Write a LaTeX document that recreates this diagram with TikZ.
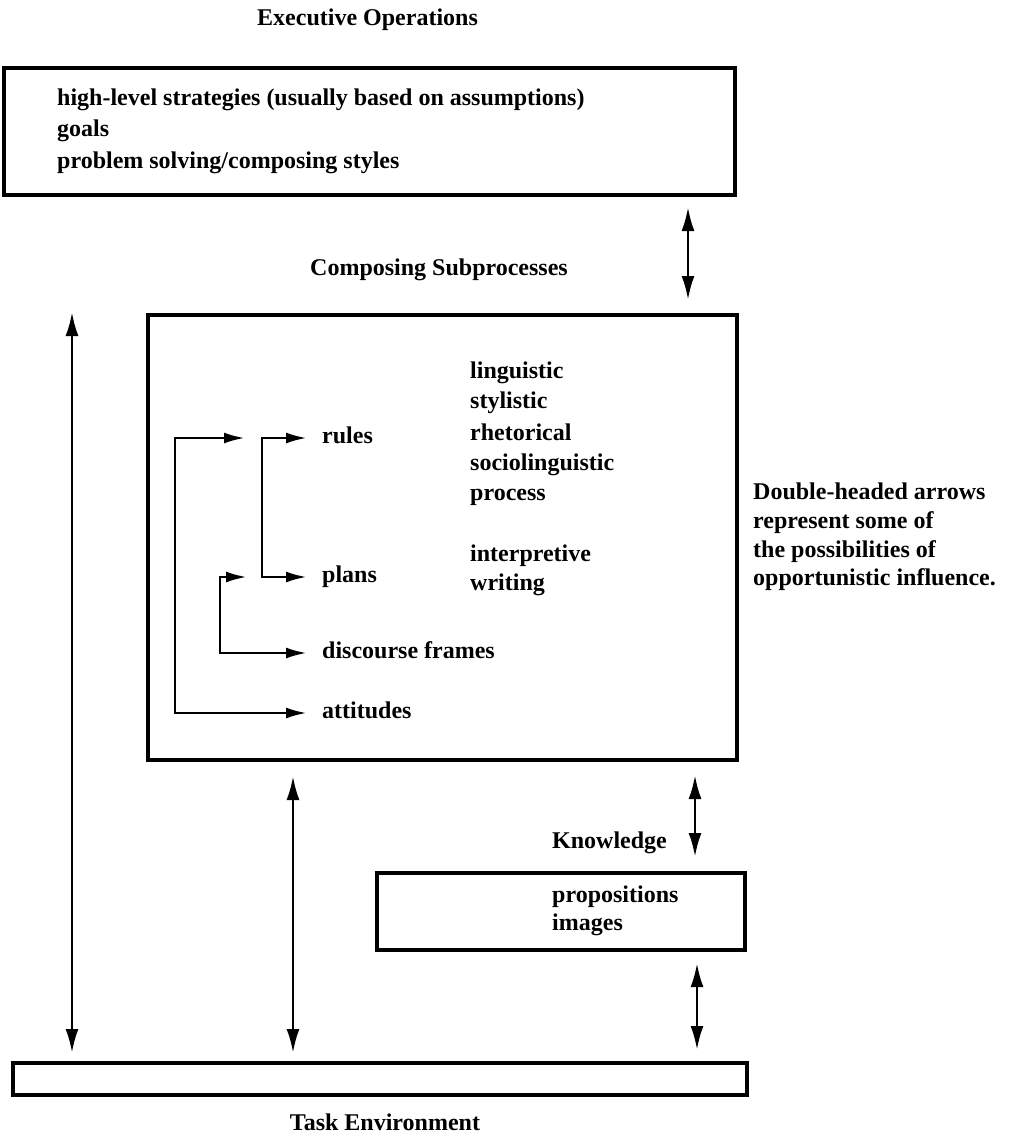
\documentclass[tikz,border=0pt]{standalone}
\usepackage{fontspec}
\setmainfont{Liberation Serif}
\usetikzlibrary{arrows.meta}
\begin{document}
\begin{tikzpicture}[x=1pt,y=-1pt,
  box/.style={draw, line width=3.2pt, inner sep=0pt, outer sep=0pt, anchor=north west},
  txt/.style={font=\fontsize{24}{30}\selectfont\bfseries, inner sep=0pt, anchor=west, text height=16pt, text depth=5pt},
  dbl/.style={line width=2.8pt, {Latex[length=24pt,width=13pt]}-{Latex[length=24pt,width=13pt]}},
  brk/.style={line width=2.8pt, {Latex[length=21pt,width=11pt]}-{Latex[length=21pt,width=11pt]}},
]
\useasboundingbox (0,0) rectangle (1009,1141);

% boxes
\node[box, minimum width=731pt, minimum height=127pt] (exec) at (4,68) {};
\node[box, minimum width=589pt, minimum height=445pt] (comp) at (148,315) {};
\node[box, minimum width=368pt, minimum height=77pt] (know) at (377,873) {};
\node[box, minimum width=734pt, minimum height=32pt] (task) at (13,1063) {};

% titles
\node[txt] (tExec) at (257,20) {Executive Operations};
\node[txt] (tComp) at (310,270) {Composing Subprocesses};
\node[txt] (tKnow) at (552,843) {Knowledge};
\node[txt, anchor=center] (tTask) at (385,1125) {Task Environment};

% executive box text
\node[txt] (e1) at (57,100) {high-level strategies (usually based on assumptions)};
\node[txt] (e2) at (57,131) {goals};
\node[txt] (e3) at (57,163) {problem solving/composing styles};

% composing box text
\node[txt] (c1) at (470,373) {linguistic};
\node[txt] (c2) at (470,403) {stylistic};
\node[txt] (c3) at (470,435) {rhetorical};
\node[txt] (c4) at (470,465) {sociolinguistic};
\node[txt] (c5) at (470,495) {process};
\node[txt] (c6) at (470,556) {interpretive};
\node[txt] (c7) at (470,585) {writing};

\node[txt] (rules) at (322,438) {rules};
\node[txt] (plans) at (322,577) {plans};
\node[txt] (disc) at (322,653) {discourse frames};
\node[txt] (att) at (322,713) {attitudes};

% knowledge box text
\node[txt] (k1) at (552,897) {propositions};
\node[txt] (k2) at (552,925) {images};

% side note
\node[txt] (n1) at (753,494) {Double-headed arrows};
\node[txt] (n2) at (753,523) {represent some of};
\node[txt] (n3) at (753,552) {the possibilities of};
\node[txt] (n4) at (753,580) {opportunistic influence.};

% bracket arrows
\coordinate (t1) at (245,438);
\coordinate (b1) at (175,438);
\coordinate (t3) at (247,577);
\coordinate (b3) at (220,577);
\coordinate (b2) at (262,577);
\draw[brk] (t1) -- (b1) |- ([xshift=-15pt]att.west);
\draw[brk] ([xshift=-15pt]rules.west) -| (b2) -- ([xshift=-15pt]plans.west);
\draw[brk] (t3) -- (b3) |- ([xshift=-15pt]disc.west);

% double-headed arrows
\coordinate (ax) at (688,0);
\coordinate (lx) at (72,0);
\coordinate (mx) at (293,0);
\coordinate (rx) at (695,0);
\coordinate (kx) at (697,0);
\coordinate (L1) at (72,312);
\draw[dbl] ([yshift=-12pt]exec.south -| ax) -- ([yshift=15pt]comp.north -| ax);
\draw[dbl] (L1) -- ([yshift=10pt]task.north -| lx);
\draw[dbl] ([yshift=-16pt]comp.south -| mx) -- ([yshift=10pt]task.north -| mx);
\draw[dbl] ([yshift=-15pt]comp.south -| rx) -- ([yshift=16pt]know.north -| rx);
\draw[dbl] ([yshift=-13pt]know.south -| kx) -- ([yshift=13pt]task.north -| kx);
\end{tikzpicture}
\end{document}
